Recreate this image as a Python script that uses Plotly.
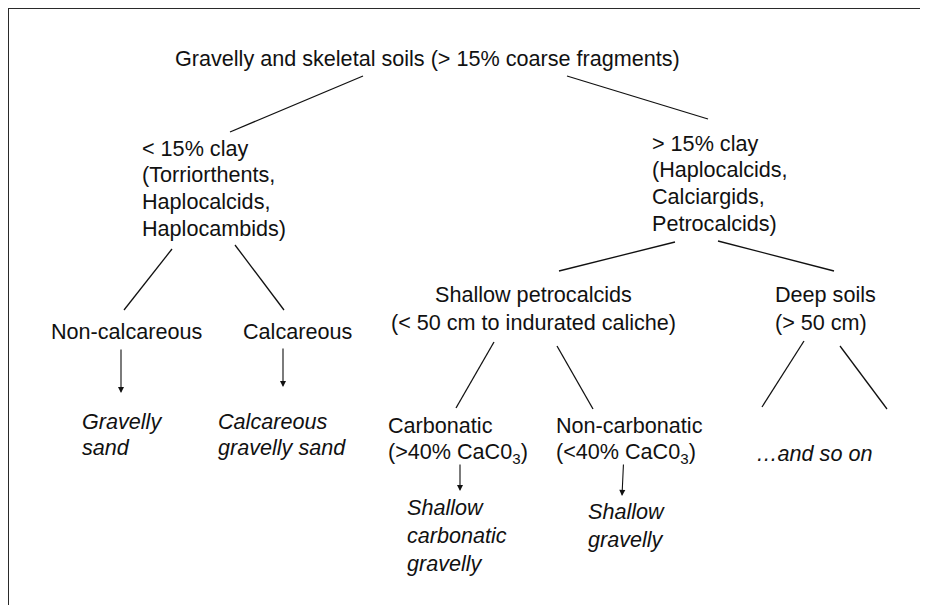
import plotly.graph_objects as go

# ---------------- data ----------------
node_ids = ["root", "lowclay", "highclay", "noncalc", "calc", "shallow", "deep",
            "carb", "noncarb", "gravsand", "calcgravsand", "shcarbgrav", "shgrav", "soon"]
node_labels = [
    "Gravelly and skeletal soils (> 15% coarse fragments)",
    "< 15% clay<br>(Torriorthents,<br>Haplocalcids,<br>Haplocambids)",
    "> 15% clay<br>(Haplocalcids,<br>Calciargids,<br>Petrocalcids)",
    "Non-calcareous",
    "Calcareous",
    "Shallow petrocalcids<br>(< 50 cm to indurated caliche)",
    "Deep soils<br>(> 50 cm)",
    "Carbonatic<br>(>40% CaC0<sub>3</sub>)",
    "Non-carbonatic<br>(<40% CaC0<sub>3</sub>)",
    "Gravelly<br>sand",
    "Calcareous<br>gravelly sand",
    "Shallow<br>carbonatic<br>gravelly",
    "Shallow<br>gravelly",
    "…and so on",
]
node_italic = [False, False, False, False, False, False, False,
               False, False, True, True, True, True, True]
branch_edges = [("root", "lowclay"), ("root", "highclay"), ("lowclay", "noncalc"),
                ("lowclay", "calc"), ("highclay", "shallow"), ("highclay", "deep"),
                ("shallow", "carb"), ("shallow", "noncarb"), ("deep", "soon"), ("deep", "soon")]
arrow_edges = [("noncalc", "gravsand"), ("calc", "calcgravsand"),
               ("carb", "shcarbgrav"), ("noncarb", "shgrav")]

# ---------------- layout (page pixel space) ----------------
W, H = 928, 605
OFF = 8  # page body margin of the html
FONT = "Liberation Sans, Arial, Helvetica, sans-serif"
FS = 21.6
# x, first-line center y, line step, xanchor/align
node_pos = {
    "root": (427, 58, 0, "center"),
    "lowclay": (141, 148, 26.7, "left"),
    "highclay": (651, 143, 26.7, "left"),
    "noncalc": (50, 331, 0, "left"),
    "calc": (242, 331, 0, "left"),
    "shallow": (533, 294, 28, "center"),
    "deep": (774, 294, 28, "left"),
    "carb": (387, 425, 28, "left"),
    "noncarb": (555, 425, 28, "left"),
    "gravsand": (81, 421, 26, "left"),
    "calcgravsand": (217, 421, 26, "left"),
    "shcarbgrav": (406, 507, 28, "left"),
    "shgrav": (587, 511, 28, "left"),
    "soon": (755, 453, 0, "left"),
}
branch_geom = [((363, 76), (230, 132)), ((567, 76), (708, 119)),
               ((172, 249), (124, 310)), ((235, 245), (284, 310)),
               ((675, 242), (559, 271)), ((718, 241), (834, 271)),
               ((494, 342), (456, 408)), ((557, 346), (593, 409)),
               ((804, 341), (762, 407)), ((840, 346), (887, 409))]
arrow_geom = [((121, 348), (121, 393)), ((283, 347), (283, 387)),
              ((460, 463), (460, 491)), ((623.5, 463), (622, 496))]

fig = go.Figure()

xs, ys = [], []
for (a, b), ((x0, y0), (x1, y1)) in zip(branch_edges, branch_geom):
    xs += [x0, x1, None]
    ys += [y0, y1, None]
fig.add_trace(go.Scatter(x=xs, y=ys, mode="lines",
                         line=dict(color="#111111", width=1.3),
                         hoverinfo="skip", showlegend=False))

annotations = []
for nid, label, ital in zip(node_ids, node_labels, node_italic):
    x, y0, step, al = node_pos[nid]
    for i, line in enumerate(label.split("<br>")):
        txt = f"<i>{line}</i>" if ital else line
        annotations.append(dict(x=x, y=y0 + i * step, xref="x", yref="y", text=txt,
                                showarrow=False, xanchor=al, yanchor="middle", align=al,
                                font=dict(family=FONT, size=FS, color="#111111"),
                                borderpad=0))

for (a, b), ((x0, y0), (x1, y1)) in zip(arrow_edges, arrow_geom):
    annotations.append(dict(x=x1, y=y1, ax=x0, ay=y0, xref="x", yref="y",
                            axref="x", ayref="y", text="", showarrow=True,
                            arrowhead=2, arrowsize=1.1, arrowwidth=1.1,
                            arrowcolor="#111111", standoff=0))

shapes = [
    dict(type="line", x0=8, y0=8, x1=W + OFF + 5, y1=8, xref="x", yref="y",
         line=dict(color="#2a2a2a", width=2)),
    dict(type="line", x0=8, y0=8, x1=8, y1=H + OFF + 5, xref="x", yref="y",
         line=dict(color="#2a2a2a", width=2)),
]

fig.update_layout(
    width=W, height=H,
    margin=dict(l=0, r=0, t=0, b=0),
    paper_bgcolor="white", plot_bgcolor="white",
    xaxis=dict(range=[OFF, W + OFF], visible=False, fixedrange=True),
    yaxis=dict(range=[H + OFF, OFF], visible=False, fixedrange=True),
    annotations=annotations, shapes=shapes,
    showlegend=False,
)

fig.write_html("out.html")
